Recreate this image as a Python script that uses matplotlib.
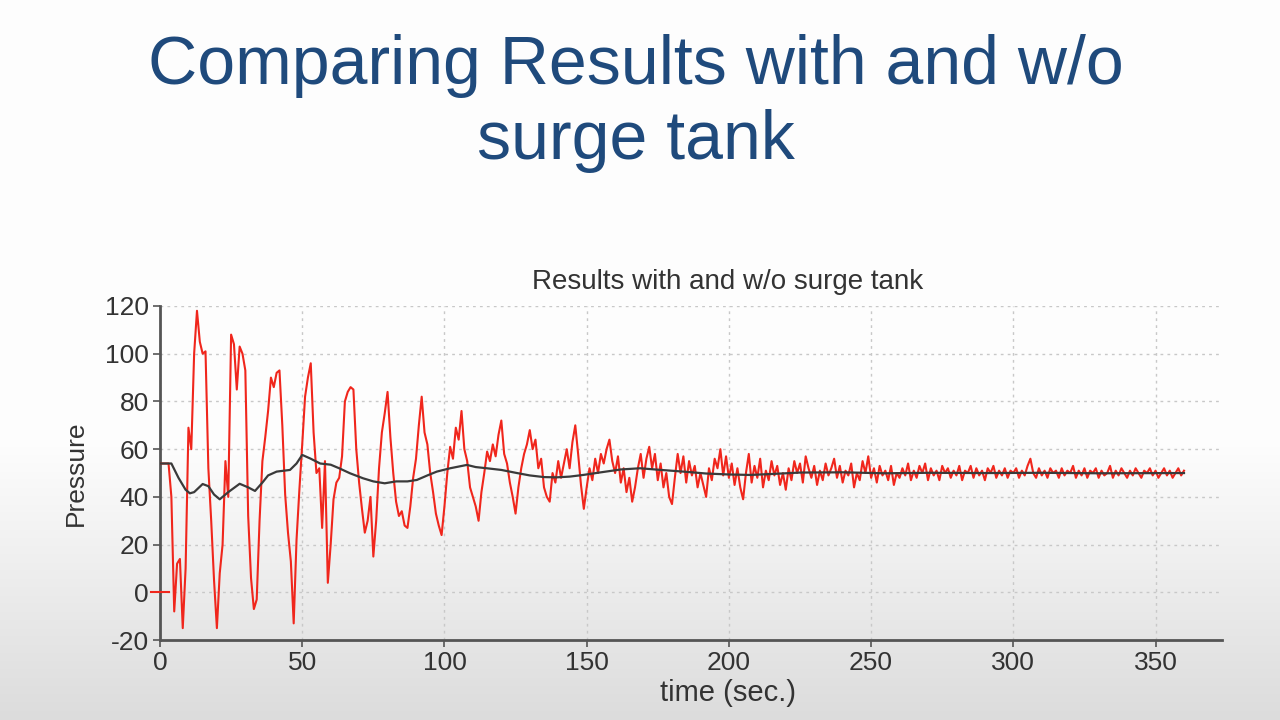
import numpy as np
import matplotlib
matplotlib.use("Agg")
import matplotlib.pyplot as plt
from matplotlib.colors import LinearSegmentedColormap

# ---------------- data ----------------
red_t = list(range(0, 361))
red_p = [
    54, 54, 54, 54, 40, -8, 12, 14, -15, 10,
    69, 60, 100, 118, 105, 100, 101, 52, 30, 5,
    -15, 8, 20, 55, 40, 108, 104, 85, 103, 100,
    93, 32, 6, -7, -3, 30, 55, 65, 76, 90,
    86, 92, 93, 70, 41, 25, 13, -13, 22, 43,
    62, 82, 90, 96, 67, 50, 52, 27, 55, 4,
    20, 39, 46, 48, 57, 80, 84, 86, 85, 60,
    46, 35, 25, 30, 40, 15, 30, 52, 67, 75,
    84, 65, 50, 38, 32, 34, 28, 27, 36, 48,
    56, 70, 82, 67, 62, 50, 42, 33, 28, 24,
    36, 50, 61, 56, 69, 64, 76, 60, 55, 44,
    40, 36, 30, 42, 50, 59, 55, 62, 57, 66,
    72, 58, 54, 46, 40, 33, 44, 52, 58, 62,
    68, 60, 64, 52, 56, 44, 40, 38, 50, 46,
    55, 48, 54, 60, 52, 63, 70, 58, 45, 35,
    44, 52, 47, 56, 50, 58, 54, 60, 64, 55,
    50, 57, 46, 52, 42, 48, 38, 44, 52, 58,
    48, 56, 61, 52, 58, 47, 54, 44, 50, 40,
    37, 48, 58, 50, 57, 46, 55, 49, 53, 44,
    50, 45, 40, 52, 47, 56, 52, 60, 49, 57,
    48, 54, 45, 52, 44, 39, 50, 58, 46, 53,
    48, 56, 44, 51, 47, 55, 49, 53, 45, 50,
    43, 52, 47, 55, 50, 54, 46, 57, 52, 48,
    53, 45, 51, 47, 54, 49, 52, 56, 48, 53,
    46, 51, 49, 54, 44, 50, 47, 55, 50, 57,
    48, 52, 46, 53, 49, 51, 47, 53, 45, 50,
    48, 52, 49, 54, 47, 51, 48, 53, 50, 54,
    47, 52, 49, 51, 47, 53, 50, 52, 48, 51,
    49, 53, 47, 51, 50, 53, 48, 52, 49, 51,
    47, 52, 50, 53, 48, 51, 49, 52, 48, 51,
    50, 52, 48, 51, 49, 53, 56, 50, 48, 52,
    49, 51, 48, 52, 50, 51, 48, 52, 49, 51,
    50, 53, 48, 51, 49, 52, 48, 51, 50, 52,
    48, 51, 49, 50, 53, 48, 51, 49, 52, 50,
    48, 51, 49, 52, 50, 48, 51, 50, 52, 49,
    51, 48, 50, 52, 49, 51, 48, 50, 52, 49,
    51,
]

black_t = [0, 4, 6.5, 9, 10.5, 12, 15, 17, 19, 21, 24, 28, 31, 33.4, 36, 38,
           41, 45.7, 48, 50, 53, 56.3, 60, 63, 66.8, 71.4, 75, 79, 83, 87,
           90.3, 94, 97.3, 102, 107.9, 111, 114.9, 120, 125.5, 130, 135,
           139.5, 144, 148.8, 155, 162, 168.8, 175, 184, 192, 200, 207.5,
           215, 225, 240, 255, 270, 290, 310, 330, 360]
black_p = [54, 54, 48, 43, 41.5, 42, 45.4, 44.5, 41, 39, 42, 45.5, 44, 42.5, 46, 49,
           50.6, 51.3, 54, 57.6, 56, 54, 53.5, 52, 49.9, 47.8, 46.5, 45.7, 46.5, 46.5,
           47.1, 49, 50.6, 52, 53.4, 52.5, 52, 51.3, 50, 49, 48.3,
           48.2, 48.5, 49.2, 50.3, 51.5, 52, 51.4, 50.6, 49.8, 49.4, 49.2,
           49.6, 50.2, 50.3, 49.9, 50.1, 50, 50.1, 49.9, 50]

x_ticks = [0, 50, 100, 150, 200, 250, 300, 350]
y_ticks = [-20, 0, 20, 40, 60, 80, 100, 120]

slide_title_1 = "Comparing Results with and w/o"
slide_title_2 = "surge tank"
chart_title = "Results with and w/o surge tank"
x_label = "time (sec.)"
y_label = "Pressure"

# ---------------- figure ----------------
plt.rcParams['font.family'] = ['Liberation Sans', 'DejaVu Sans']
plt.rcParams['axes.unicode_minus'] = False
fig = plt.figure(figsize=(12.8, 7.2), dpi=100)

# background gradient (white top, light gray bottom)
bg = fig.add_axes([0, 0, 1, 1], zorder=-10)
rows = np.linspace(0, 1, 720)
col = np.clip((rows - 0.62) / 0.38, 0, 1)
grad = np.tile(col[:, None], (1, 2))
cmap = LinearSegmentedColormap.from_list('bgc', ['#fdfdfd', '#dcdcdc'])
bg.imshow(grad, aspect='auto', cmap=cmap, extent=[0, 1, 0, 1], origin='upper',
          vmin=0, vmax=1)
bg.set_axis_off()

fig.text(0.497, 1 - 66 / 720, slide_title_1, ha='center', va='center',
         fontsize=49, color='#1f4a7c')
fig.text(0.497, 1 - 141 / 720, slide_title_2, ha='center', va='center',
         fontsize=49, color='#1f4a7c')

ax = fig.add_axes([0.125, 0.111, 0.830, 0.464])
ax.set_facecolor('none')

ax.plot(red_t, red_p, color='#f0261c', lw=1.5, zorder=3)
ax.plot(black_t, black_p, color='#3a3a3a', lw=1.6, zorder=4)
ax.plot([-3, 3], [0, 0], color='#f0261c', lw=1.5, clip_on=False, zorder=5)

ax.set_xlim(0, 373.5)
ax.set_ylim(-20, 120)
ax.set_xticks(x_ticks)
ax.set_yticks(y_ticks)

ax.grid(True, color='#c8c8c8', linestyle=(0, (2, 3)), lw=1)
for s in ['top', 'right']:
    ax.spines[s].set_visible(False)
for s in ['left', 'bottom']:
    ax.spines[s].set_color('#555555')
    ax.spines[s].set_linewidth(2)
ax.tick_params(axis='both', colors='#555555', length=5, width=1.2,
               labelsize=19, labelcolor='#333333', pad=3)

ax.set_ylabel(y_label, fontsize=19, color='#333333', labelpad=12)
fig.text(728 / 1280, 1 - 693 / 720, x_label, ha='center', va='center',
         fontsize=21, color='#333333')
fig.text(728 / 1280, 1 - 282 / 720, chart_title, ha='center', va='center',
         fontsize=20, color='#333333')

fig.savefig('out.png', dpi=100)
